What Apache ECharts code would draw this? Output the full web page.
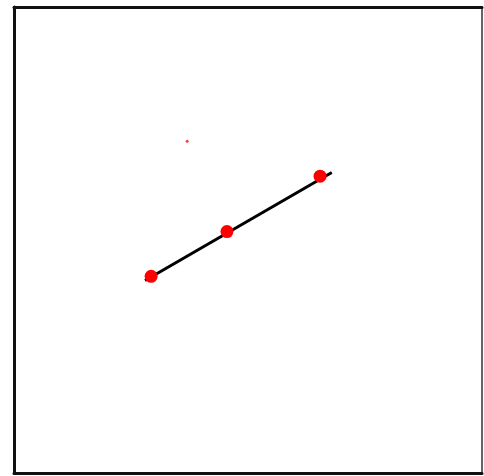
<!DOCTYPE html>
<html>
<head>
<meta charset="utf-8">
<script src="https://cdn.jsdelivr.net/npm/echarts@6/dist/echarts.min.js"></script>
<style>
  html, body { margin: 0; padding: 0; background: #fff; }
  #chart { width: 484px; height: 476px; }
</style>
</head>
<body>
<div id="chart"></div>
<script>
// values, axes run 0..100 on both sides
const lineX = [28.0, 67.9]
const lineY = [41.3, 64.5]
const dotX = [29.3, 45.5, 65.4]
const dotY = [42.2, 51.8, 63.7]
const specX = [37.0]
const specY = [71.2]

const zip = (xs, ys) => xs.map((x, i) => [x, ys[i]])

const chart = echarts.init(document.getElementById("chart"))

const frame = { show: true, onZero: false, lineStyle: { color: "#111", width: 3 } }
const hidden = { axisTick: { show: false }, axisLabel: { show: false }, splitLine: { show: false } }

const option = {
  animation: false,
  grid: { left: 14, right: 2, top: 7, bottom: 3 },
  xAxis: [
    { type: "value", min: 0, max: 100, position: "bottom", axisLine: frame, ...hidden },
    { type: "value", min: 0, max: 100, position: "top", axisLine: frame, ...hidden }
  ],
  yAxis: [
    { type: "value", min: 0, max: 100, position: "left", axisLine: frame, ...hidden },
    { type: "value", min: 0, max: 100, position: "right",
      axisLine: { show: true, onZero: false, lineStyle: { color: "#666", width: 2 } }, ...hidden }
  ],
  series: [
    {
      type: "line",
      data: zip(lineX, lineY),
      symbol: "none",
      lineStyle: { color: "#000", width: 3 },
      z: 2
    },
    {
      type: "scatter",
      data: zip(dotX, dotY),
      symbolSize: 13,
      itemStyle: { color: "#ff0000", opacity: 1 },
      z: 3
    },
    {
      type: "scatter",
      data: zip(specX, specY),
      symbolSize: 3,
      itemStyle: { color: "#ff4040", opacity: 1 },
      z: 3
    }
  ]
}

chart.setOption(option)
</script>
</body>
</html>
